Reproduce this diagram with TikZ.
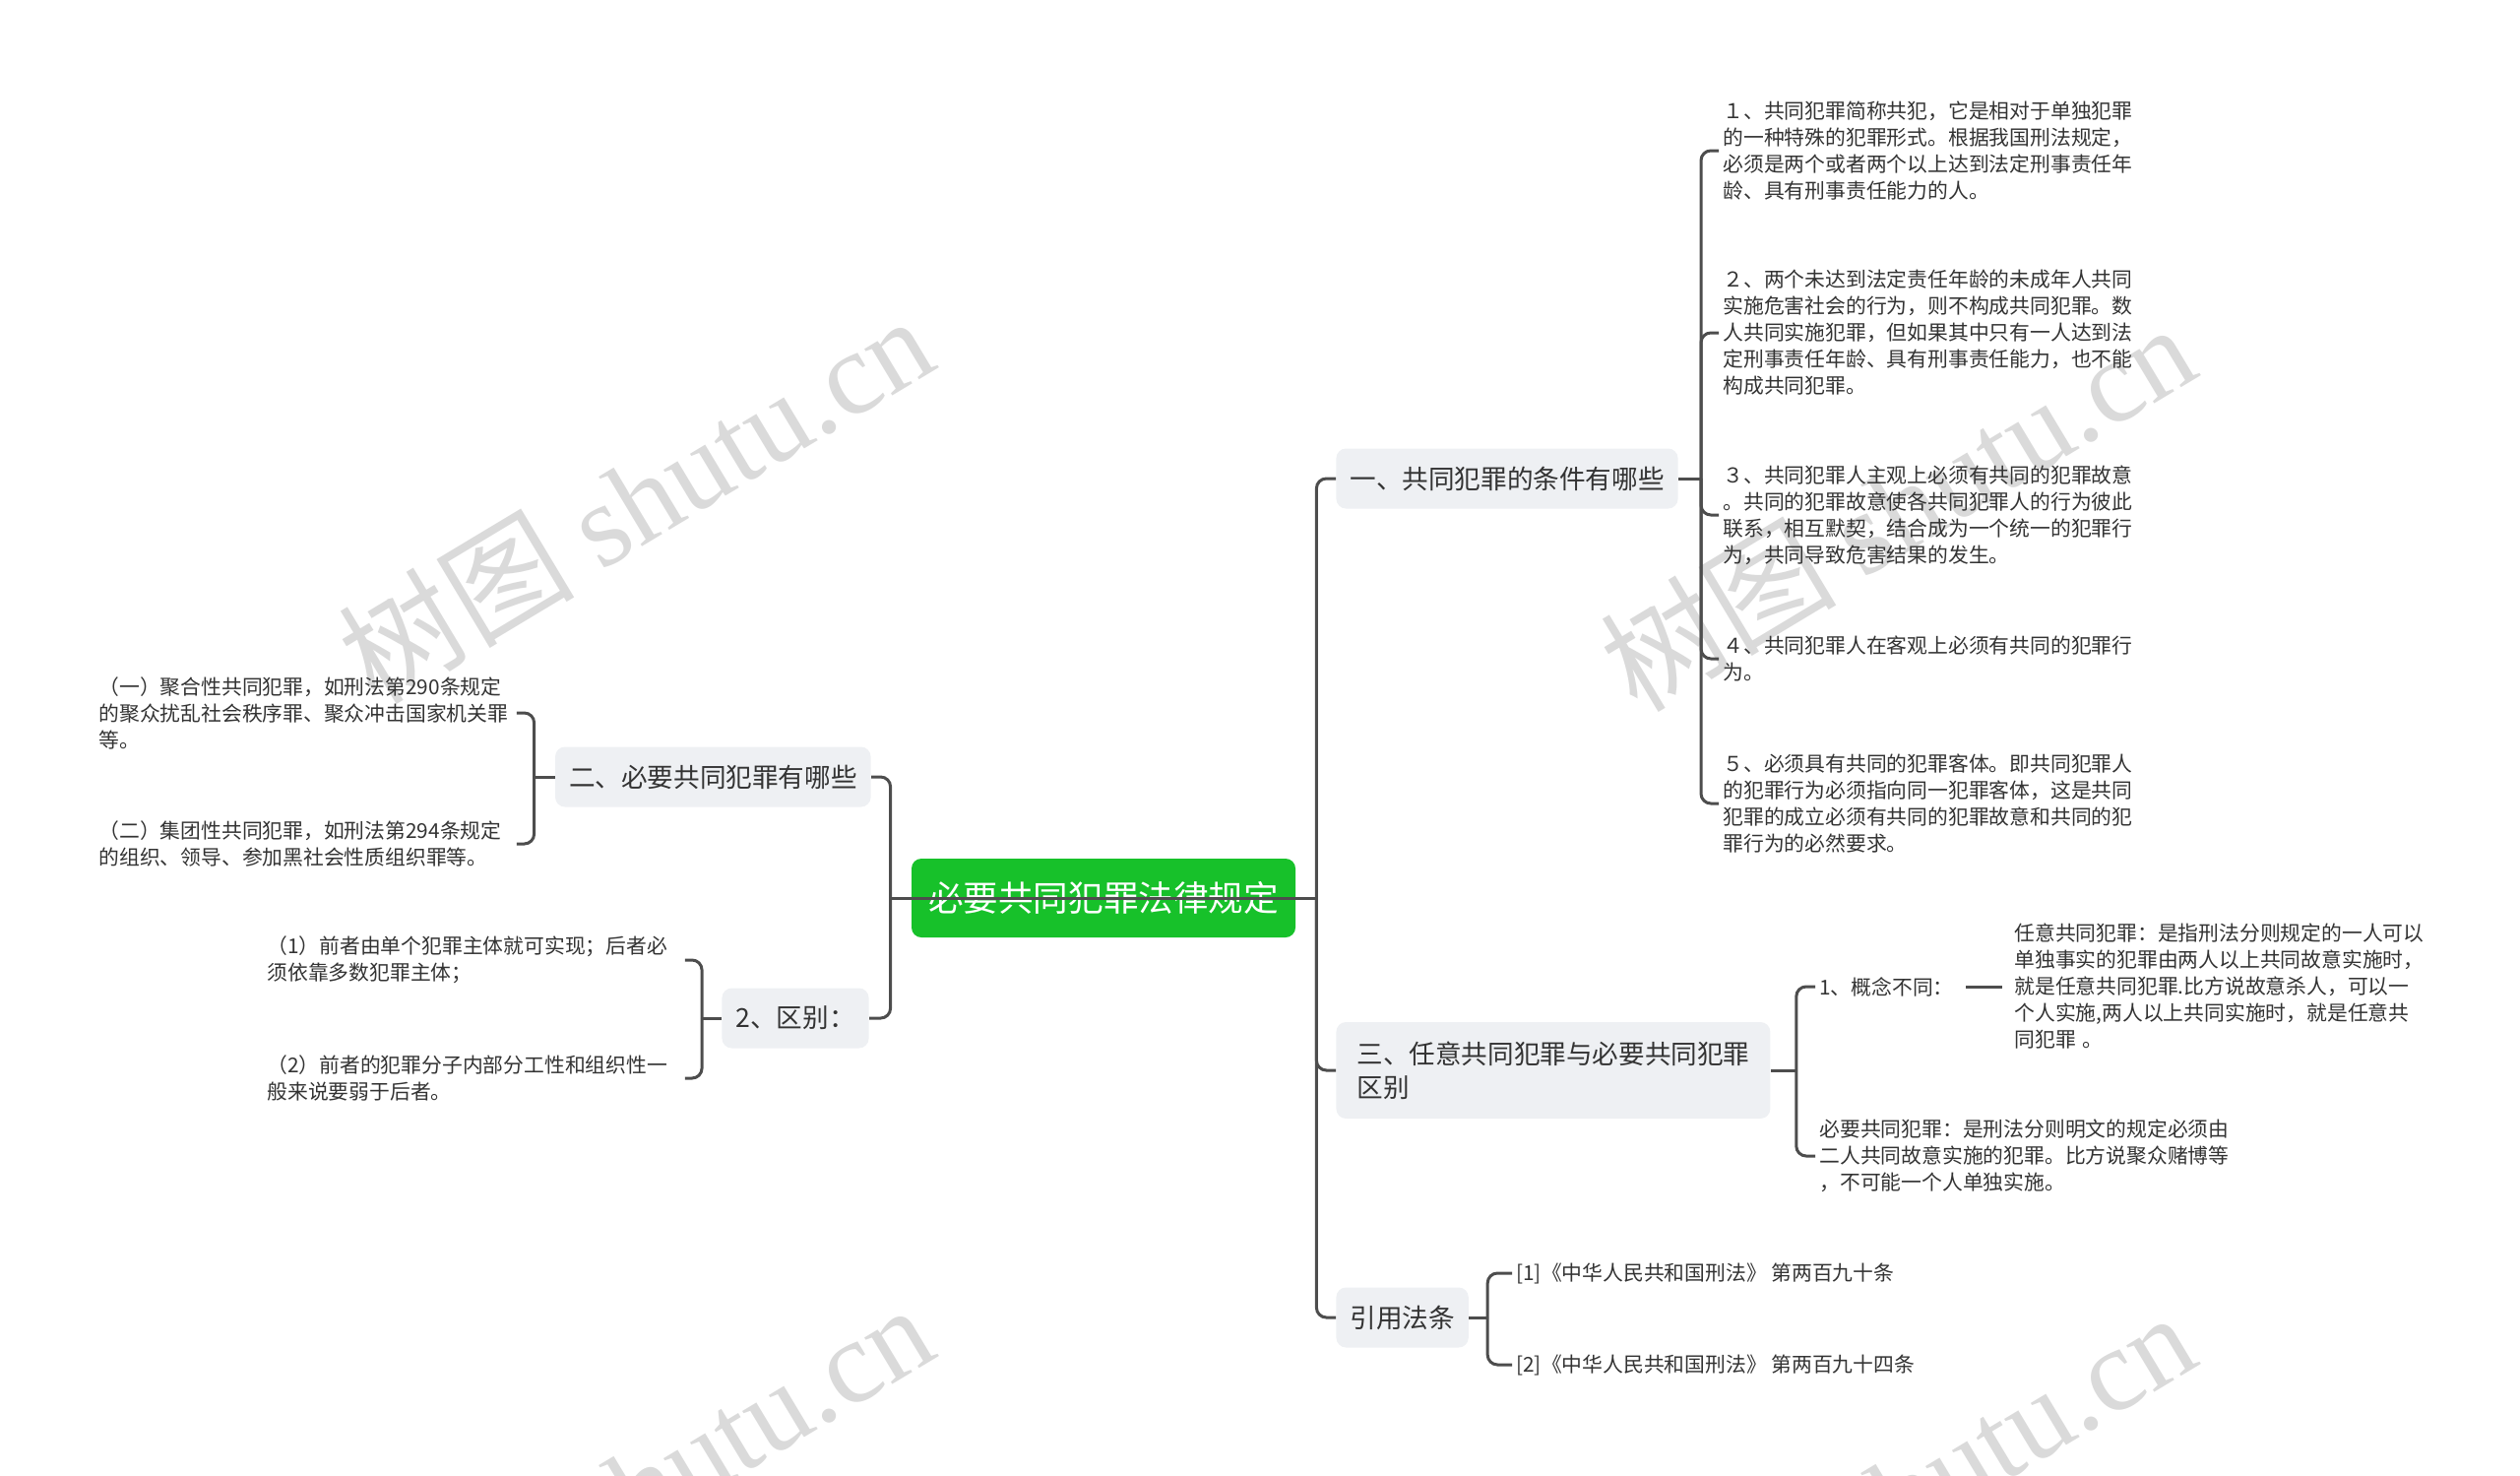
\documentclass[tikz,border=0pt]{standalone}
\usepackage{fontspec}
\setmainfont{Noto Sans CJK SC}
\newfontfamily\wmfont{Liberation Serif}
\usetikzlibrary{positioning}
\definecolor{linkgray}{HTML}{4D4D4D}
\definecolor{topicbg}{HTML}{EEF0F3}
\definecolor{rootgreen}{HTML}{17C12A}
\definecolor{textgray}{HTML}{333333}
\definecolor{wmgray}{HTML}{DADADA}

\begin{document}
\begin{tikzpicture}[x=0.5pt, y=-0.5pt,
    link/.style={draw=linkgray, line width=1.5pt},
    elbow/.style={link, rounded corners=5pt},
    root/.style={fill=rootgreen, rounded corners=5pt, text=white, inner sep=0pt,
        font=\fontsize{17.8}{22}\selectfont, minimum width=195pt, minimum height=40pt},
    topic/.style={fill=topicbg, rounded corners=5pt, text=textgray, align=left,
        font=\fontsize{13.3}{17}\selectfont, inner xsep=7pt, inner ysep=0pt, minimum height=30.5pt},
    leaf/.style={text=textgray, font=\fontsize{10.4}{13.5}\selectfont, inner sep=2pt, align=left},
    para/.style={leaf, text width=210pt},
    wmark/.style={text=wmgray, rotate=31, inner sep=0pt, font=\fontsize{60}{60}\selectfont}]
  \useasboundingbox (0,0) rectangle (2560,1499);
  \clip (0,0) rectangle (2560,1499);

  \node[wmark] (wm1) at (645,506) {树图 {\wmfont shutu.cn}};
  \node[wmark] (wm2) at (1927,514) {树图 {\wmfont shutu.cn}};
  \node[wmark] (wm3) at (645,1510) {树图 {\wmfont shutu.cn}};
  \node[wmark] (wm4) at (1927,1518) {树图 {\wmfont shutu.cn}};

  \node[root] (root) at (1121,912) {必要共同犯罪法律规定};

  \node[topic, anchor=west] (t1) at (1357,486) {一、共同犯罪的条件有哪些};
  \node[topic, anchor=west, minimum height=49pt, minimum width=220.5pt] (t3) at (1357,1087) {三、任意共同犯罪与必要共同犯罪\\区别};
  \node[topic, anchor=west] (t4) at (1357,1338) {引用法条};
  \node[topic, anchor=east] (t2) at (885,789) {二、必要共同犯罪有哪些};
  \node[topic, anchor=east] (d0) at (883,1034) {2、区别：};

  \node[para, anchor=west] (l1) at (1746,153) {１、共同犯罪简称共犯，它是相对于单独犯罪\\的一种特殊的犯罪形式。根据我国刑法规定，\\必须是两个或者两个以上达到法定刑事责任年\\龄、具有刑事责任能力的人。};
  \node[para, anchor=west] (l2) at (1746,338) {２、两个未达到法定责任年龄的未成年人共同\\实施危害社会的行为，则不构成共同犯罪。数\\人共同实施犯罪，但如果其中只有一人达到法\\定刑事责任年龄、具有刑事责任能力，也不能\\构成共同犯罪。};
  \node[para, anchor=west] (l3) at (1746,523) {３、共同犯罪人主观上必须有共同的犯罪故意\\。共同的犯罪故意使各共同犯罪人的行为彼此\\联系，相互默契，结合成为一个统一的犯罪行\\为，共同导致危害结果的发生。};
  \node[para, anchor=west] (l4) at (1746,669) {４、共同犯罪人在客观上必须有共同的犯罪行\\为。};
  \node[para, anchor=west] (l5) at (1746,816) {５、必须具有共同的犯罪客体。即共同犯罪人\\的犯罪行为必须指向同一犯罪客体，这是共同\\犯罪的成立必须有共同的犯罪故意和共同的犯\\罪行为的必然要求。};

  \node[leaf, anchor=west] (k1) at (1844,1002) {1、概念不同：};
  \node[para, anchor=west] (k1a) at (2042,1002) {任意共同犯罪：是指刑法分则规定的一人可以\\单独事实的犯罪由两人以上共同故意实施时，\\就是任意共同犯罪.比方说故意杀人，可以一\\个人实施,两人以上共同实施时，就是任意共\\同犯罪 。};
  \node[para, anchor=west] (k2) at (1844,1174) {必要共同犯罪：是刑法分则明文的规定必须由\\二人共同故意实施的犯罪。比方说聚众赌博等\\，不可能一个人单独实施。};

  \node[leaf, anchor=west] (r1) at (1536,1293) {[1]《中华人民共和国刑法》 第两百九十条};
  \node[leaf, anchor=west] (r2) at (1536,1386) {[2]《中华人民共和国刑法》 第两百九十四条};

  \node[para, anchor=west] (n1) at (96,724) {（一）聚合性共同犯罪，如刑法第290条规定\\的聚众扰乱社会秩序罪、聚众冲击国家机关罪\\等。};
  \node[para, anchor=west] (n2) at (96,857) {（二）集团性共同犯罪，如刑法第294条规定\\的组织、领导、参加黑社会性质组织罪等。};
  \node[para, anchor=west] (e1) at (267,975) {（1）前者由单个犯罪主体就可实现；后者必\\须依靠多数犯罪主体；};
  \node[para, anchor=west] (e2) at (267,1095) {（2）前者的犯罪分子内部分工性和组织性一\\般来说要弱于后者。};

  \draw[link] (root.east) -- ++(21,0) coordinate (jr);
  \draw[link] (root.west) -- ++(-21,0) coordinate (jl);
  \draw[link] (jl) -- (jr);
  \foreach \n in {t1,t3,t4} \draw[elbow] (jr) |- (\n.west);
  \foreach \n in {t2,d0} \draw[elbow] (jl) |- (\n.east);

  \draw[link] (t1.east) -- ++(23,0) coordinate (j1);
  \foreach \n in {l1,l2,l3,l4,l5} \draw[elbow] (j1) |- (\n.west);

  \draw[link] (t3.east) -- ++(26,0) coordinate (j3);
  \foreach \n in {k1,k2} \draw[elbow] (j3) |- (\n.west);
  \draw[link, shorten <=4pt, shorten >=4pt] (k1.east) -- (k1a.west);

  \draw[link] (t4.east) -- ++(19,0) coordinate (j4);
  \foreach \n in {r1,r2} \draw[elbow] (j4) |- (\n.west);

  \draw[link] (t2.west) -- ++(-21,0) coordinate (j2);
  \foreach \n in {n1,n2} \draw[elbow] (j2) |- (\n.east);

  \draw[link] (d0.west) -- ++(-20,0) coordinate (j5);
  \foreach \n in {e1,e2} \draw[elbow] (j5) |- (\n.east);
\end{tikzpicture}
\end{document}
